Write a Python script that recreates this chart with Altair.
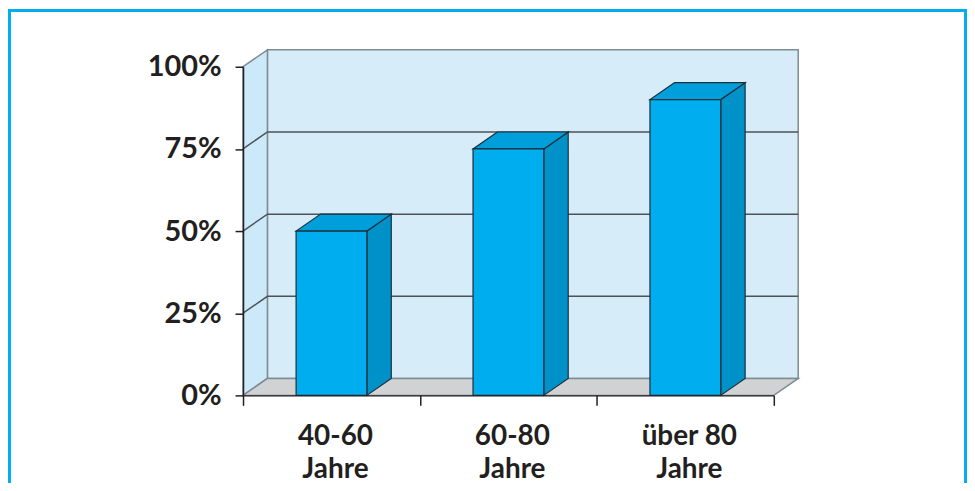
import altair as alt
import pandas as pd

# ---- data ----
categories = ["40-60\nJahre", "60-80\nJahre", "über 80\nJahre"]
values = [50, 75, 90]            # percent
y_ticks = [0, 25, 50, 75, 100]   # percent
grid_levels = [25, 50, 75]

# ---- layout constants (3D depth expressed in scale units) ----
PLOT_W, PLOT_H = 533, 330
N = len(categories)
DX = 24.5 / (PLOT_W / N)   # depth in category units
DY = 17.0 / PLOT_H         # depth in fraction units
BAR_HALF = 0.2

FONT = "Lato"
TXT = "#231f20"
AX = "#231f20"
WALL_STROKE = "#7f8b92"
GRID = "#4d5257"
BAR_STROKE = "#1c2f3a"

xs = alt.Scale(domain=[0, N], nice=False, zero=False)
ys = alt.Scale(domain=[0, 1], nice=False, zero=False)
x_axis = alt.Axis(values=list(range(N + 1)), labels=False, ticks=True, tickSize=10,
                  domain=True, domainColor=AX, tickColor=AX, domainWidth=1.5,
                  tickWidth=1.5, grid=False, title=None, zindex=1)
y_axis = alt.Axis(values=[t / 100 for t in y_ticks], format=".0%", tickSize=8,
                  labelFont=FONT, labelFontSize=29, labelFontWeight="bold",
                  labelColor=TXT, labelPadding=14, domain=True, domainColor=AX,
                  tickColor=AX, domainWidth=1.5, tickWidth=1.5, grid=False,
                  title=None, zindex=1)


def X(field, **kw):
    return alt.X(field, type="quantitative", scale=xs, axis=x_axis, **kw)


def Y(field, **kw):
    return alt.Y(field, type="quantitative", scale=ys, axis=y_axis, **kw)


# ---- walls ----
back_df = pd.DataFrame({"x0": [DX], "x1": [N + DX], "y0": [DY], "y1": [1 + DY]})
back = alt.Chart(back_df).mark_rect(fill="#d6ecf9", stroke=WALL_STROKE, strokeWidth=1.5).encode(
    x=X("x0"), x2="x1", y=Y("y0"), y2="y1")

left_df = pd.DataFrame({"x": [0, DX], "ya": [0, DY], "yb": [1, 1 + DY]})
left = alt.Chart(left_df).mark_area(fill="#cbe9f9", stroke=WALL_STROKE, strokeWidth=1.5,
                                    opacity=1, orient="vertical").encode(
    x=X("x"), y=Y("ya"), y2="yb")

floor_df = pd.DataFrame({"y": [0, DY], "xa": [0, DX], "xb": [N, N + DX]})
floor = alt.Chart(floor_df).mark_area(fill="#d1d2d4", stroke=WALL_STROKE, strokeWidth=1.5,
                                      opacity=1, orient="horizontal").encode(
    y=Y("y"), x=X("xa"), x2="xb")

# ---- gridlines (left wall diagonal + back wall horizontal) ----
g_rows = []
for g in grid_levels:
    v = g / 100
    g_rows += [{"lvl": g, "s": 0, "x": 0, "y": v},
               {"lvl": g, "s": 1, "x": DX, "y": v + DY},
               {"lvl": g, "s": 2, "x": N + DX, "y": v + DY}]
grid = alt.Chart(pd.DataFrame(g_rows)).mark_line(color=GRID, strokeWidth=1.5).encode(
    x=X("x"), y=Y("y"), detail="lvl:N", order="s:Q")

# ---- bars ----
front_rows, top_rows, side_rows = [], [], []
for i, val in enumerate(values):
    v = val / 100
    x0, x1 = i + 0.5 - BAR_HALF, i + 0.5 + BAR_HALF
    front_rows.append({"bar": i, "x0": x0, "x1": x1, "y0": 0, "y1": v})
    top_rows += [{"bar": i, "y": v, "xa": x0, "xb": x1},
                 {"bar": i, "y": v + DY, "xa": x0 + DX, "xb": x1 + DX}]
    side_rows += [{"bar": i, "x": x1, "ya": 0, "yb": v},
                  {"bar": i, "x": x1 + DX, "ya": DY, "yb": v + DY}]

side = alt.Chart(pd.DataFrame(side_rows)).mark_area(
    fill="#0091c9", stroke=BAR_STROKE, strokeWidth=1.2, opacity=1, orient="vertical").encode(
    x=X("x"), y=Y("ya"), y2="yb", detail="bar:N")
top = alt.Chart(pd.DataFrame(top_rows)).mark_area(
    fill="#009fdb", stroke=BAR_STROKE, strokeWidth=1.2, opacity=1, orient="horizontal").encode(
    y=Y("y"), x=X("xa"), x2="xb", detail="bar:N")
front = alt.Chart(pd.DataFrame(front_rows)).mark_rect(
    fill="#00adef", stroke=BAR_STROKE, strokeWidth=1.2).encode(
    x=X("x0"), x2="x1", y=Y("y0"), y2="y1")

# ---- category labels ----
lab_df = pd.DataFrame({"cat": categories, "xc": [i + 0.5 for i in range(N)]})
labels = alt.Chart(lab_df).mark_text(
    font=FONT, fontSize=28, fontWeight="bold", color=TXT, lineBreak="\n",
    lineHeight=33, align="center", baseline="alphabetic", dy=50, dx=4).encode(
    x=X("xc"), y=alt.Y(datum=0, type="quantitative", scale=ys, axis=y_axis), text="cat:N")

# ---- frame around the figure ----
frame_df = pd.DataFrame({"k": [0]})
FR = dict(color="#00aeef", strokeWidth=3)
frame_l = alt.Chart(frame_df).mark_rule(**FR).encode(
    x=alt.value(-234.5), y=alt.value(-56.5), y2=alt.value(440))
frame_t = alt.Chart(frame_df).mark_rule(**FR).encode(
    x=alt.value(-236), x2=alt.value(727), y=alt.value(-56.5))
frame_r = alt.Chart(frame_df).mark_rule(**FR).encode(
    x=alt.value(725.5), y=alt.value(-56.5), y2=alt.value(440))

chart = alt.layer(back, left, floor, grid, side, top, front, labels,
                  frame_l, frame_t, frame_r).properties(
    width=PLOT_W, height=PLOT_H,
    autosize=alt.AutoSizeParams(type="none"),
    padding={"left": 236, "top": 58, "right": 194, "bottom": 87},
    background="white",
).configure_view(stroke=None)

chart.save("out.html", embed_options={"renderer": "svg", "actions": False})
